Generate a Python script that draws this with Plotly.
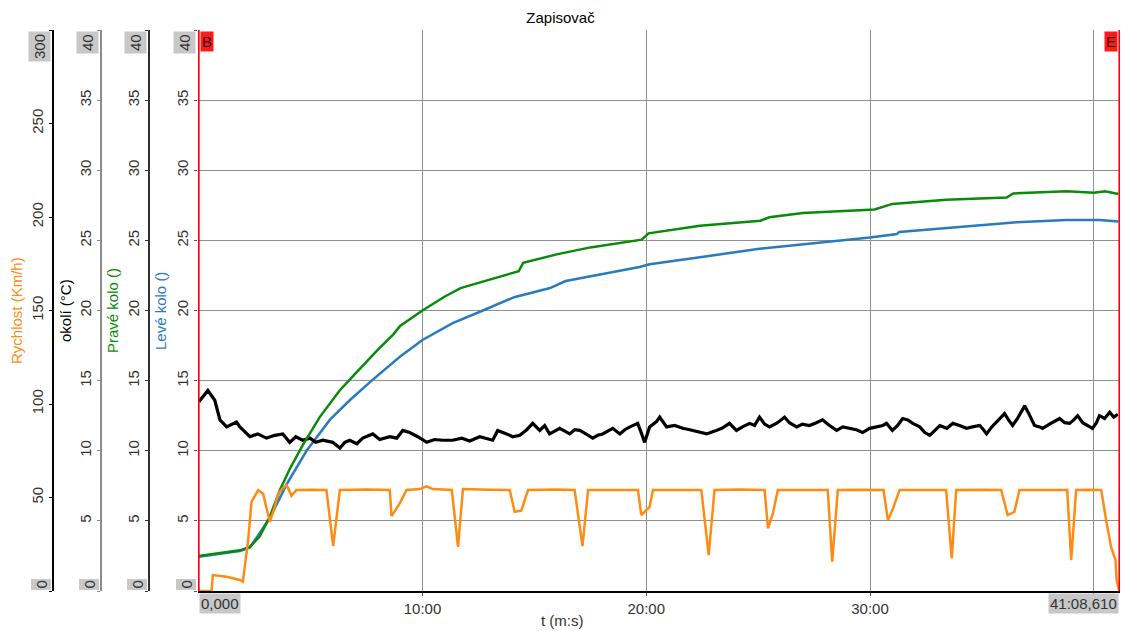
import plotly.graph_objects as go

# ---------------- data (time in minutes) ----------------
t_end = 41.1435  # 41:08,610

green_t = [0.0, 1.84, 2.29, 2.73, 3.18, 3.63, 4.07, 4.65, 5.41, 6.3, 7.0, 8.0, 8.7, 9.0, 10.0, 11.0, 11.7,
           13.0, 14.3, 14.5, 16.0, 17.5, 19.8, 20.1, 22.4, 25.1, 25.5, 27.0, 29.0, 30.2, 31.0, 33.4, 36.1,
           36.4, 38.8, 40.0, 40.5, 41.1]
green_v = [2.5, 2.9, 3.15, 3.9, 5.3, 7.2, 8.7, 10.4, 12.4, 14.3, 15.5, 17.2, 18.3, 18.9, 20.0, 21.0, 21.6,
           22.2, 22.8, 23.4, 24.0, 24.5, 25.05, 25.5, 26.05, 26.4, 26.65, 26.95, 27.1, 27.2, 27.6, 27.9, 28.05,
           28.35, 28.5, 28.4, 28.5, 28.3]

blue_t = [0.0, 1.84, 2.29, 3.18, 3.93, 4.82, 5.86, 6.75, 7.73, 8.99, 10.0, 11.35, 12.7, 14.1, 15.7, 16.4,
          19.7, 20.15, 22.4, 25.06, 30.0, 31.2, 31.3, 35.5, 36.55, 38.8, 40.25, 41.1]
blue_v = [2.45, 2.85, 3.1, 5.2, 7.6, 10.0, 12.2, 13.6, 15.0, 16.7, 17.9, 19.1, 20.0, 20.95, 21.6, 22.1,
          23.1, 23.3, 23.8, 24.4, 25.2, 25.45, 25.6, 26.2, 26.3, 26.45, 26.45, 26.35]

okoli_t = [0.01, 0.41, 0.72, 0.95, 1.25, 1.69, 1.84, 2.29, 2.64, 3.03, 3.40, 3.76, 4.07, 4.34, 4.65, 4.97,
           5.23, 5.55, 5.99, 6.31, 6.53, 6.75, 7.07, 7.33, 7.78, 8.09, 8.54, 8.85, 9.12, 9.43, 9.79, 10.19,
           10.54, 10.9, 11.35, 11.76, 12.11, 12.56, 13.14, 13.36, 13.76, 14.03, 14.35, 14.66, 14.93, 15.24,
           15.46, 15.68, 15.91, 16.13, 16.36, 16.58, 16.8, 17.03, 17.3, 17.61, 17.83, 18.05, 18.28, 18.5,
           18.82, 19.04, 19.27, 19.62, 19.75, 19.93, 20.15, 20.47, 20.6, 20.91, 21.27, 21.63, 21.94, 22.39,
           22.7, 23.06, 23.38, 23.72, 24.03, 24.3, 24.62, 24.84, 25.06, 25.29, 25.51, 25.87, 26.18, 26.4,
           26.72, 26.98, 27.29, 27.6, 27.88, 28.19, 28.51, 28.78, 29.08, 29.39, 29.67, 29.98, 30.29, 30.57,
           30.74, 31.0, 31.23, 31.46, 31.69, 31.91, 32.22, 32.45, 32.67, 32.9, 33.12, 33.43, 33.7, 34.0,
           34.31, 34.58, 34.9, 35.07, 35.21, 35.44, 35.66, 35.83, 36.01, 36.19, 36.37, 36.59, 36.77, 36.91,
           37.08, 37.22, 37.35, 37.58, 37.71, 38.02, 38.25, 38.47, 38.7, 38.92, 39.1, 39.28, 39.5, 39.72,
           39.94, 40.12, 40.25, 40.48, 40.71, 40.89, 41.07]
okoli_v = [13.5, 14.3, 13.6, 12.2, 11.7, 12.05, 11.7, 11.0, 11.2, 10.9, 11.1, 11.2, 10.6, 11.0, 10.75, 10.9,
           10.6, 10.75, 10.6, 10.2, 10.6, 10.75, 10.5, 10.9, 11.2, 10.8, 11.0, 10.9, 11.45, 11.3, 11.0, 10.6,
           10.8, 10.75, 10.75, 10.9, 10.7, 11.0, 10.75, 11.45, 11.2, 11.0, 11.1, 11.5, 11.95, 11.45,
           11.8, 11.2, 11.4, 11.6, 11.4, 11.2, 11.5, 11.45, 11.2, 10.9, 11.1, 11.2, 11.4, 11.6,
           11.2, 11.5, 11.7, 11.95, 11.4, 10.6, 11.7, 12.1, 12.4, 11.7, 11.8, 11.6, 11.5, 11.3,
           11.2, 11.4, 11.6, 11.95, 11.45, 11.7, 11.95, 11.8, 12.4, 11.9, 11.7, 12.0, 12.4, 12.0,
           11.7, 11.9, 11.8, 12.0, 12.2, 11.8, 11.45, 11.7, 11.6, 11.5, 11.3, 11.6, 11.7, 11.8,
           11.95, 11.45, 11.8, 12.3, 12.2, 11.95, 11.7, 11.3, 11.1, 11.5, 11.8, 11.6, 11.95, 11.8,
           11.6, 11.7, 11.8, 11.5, 11.2, 11.7, 12.05, 12.3, 12.65, 12.2, 11.8, 12.3, 12.8, 13.2,
           12.7, 12.2, 11.8, 11.7, 11.6, 11.9, 12.1, 12.3, 12.0, 11.95, 12.2, 12.5, 12.0, 11.8,
           11.6, 12.0, 12.5, 12.3, 12.75, 12.4, 12.6]

speed_t = [0.0, 0.576, 0.634, 1.246, 1.84, 1.974, 2.21, 2.36, 2.66, 2.88, 3.18, 3.40, 3.55, 3.76, 3.93,
           4.15, 4.37, 5.0, 5.71, 6.01, 6.31, 7.5, 8.54, 8.62, 8.99, 9.29, 9.88, 10.18, 10.46, 11.31, 11.59,
           11.81, 13.0, 13.9, 14.12, 14.42, 14.72, 16.0, 16.8, 17.15, 17.4, 18.5, 19.63, 19.78, 20.15,
           20.3, 21.5, 22.46, 22.79, 23.05, 24.2, 25.29, 25.44, 25.66, 25.88, 27.0, 28.11, 28.31, 28.56,
           29.6, 30.6, 30.8, 31.02, 31.32, 32.4, 33.4, 33.65, 33.85, 35.0, 35.86, 36.15, 36.45, 36.68,
           37.8, 38.81, 38.99, 39.21, 39.8, 40.33, 40.55, 40.77, 40.97, 41.02, 41.14]
speed_v = [0, 0, 8.5, 7.6, 5.9, 5.0, 27, 47.6, 54, 52, 37, 45, 52, 55, 56.6,
           51, 54, 54.2, 54, 24, 54, 54.3, 54, 40, 47, 54, 54.5, 56, 54.5, 54, 23.6,
           54.5, 54.2, 54, 42.3, 43, 54, 54.3, 54, 24, 54, 54.2, 54, 40.6, 45,
           54, 54.2, 54, 19.2, 54, 54.3, 54, 33.5, 41.5, 54, 54.2, 54, 15.7, 54,
           54.2, 54, 37.9, 44, 54, 54.2, 54, 17.4, 54, 54.2, 54, 40.6, 42.3, 54,
           54.2, 54, 16.5, 54, 54.2, 54, 37.9, 23.6, 16.5, 5.9, 0]

x_ticks = [10, 20, 30, 40]
x_ticktext = ["10:00", "20:00", "30:00", ""]
y40_ticks = [0, 5, 10, 15, 20, 25, 30, 35, 40]
y40_text = ["", "5", "10", "15", "20", "25", "30", "35", ""]
y300_ticks = [0, 50, 100, 150, 200, 250, 300]
y300_text = ["", "50", "100", "150", "200", "250", ""]

# ---------------- style ----------------
FONT = "Liberation Sans, Arial, sans-serif"
W, H = 1121, 631
ORANGE = "#ff8c12"
GREEN = "#0a8a0a"
BLUE = "#2a7bbd"
GRID = "#8f8f8f"
TICKC = "#333333"

fig = go.Figure()
fig.add_trace(go.Scatter(x=speed_t, y=speed_v, yaxis="y4", mode="lines",
                         line=dict(color=ORANGE, width=2.5), name="Rychlost"))
fig.add_trace(go.Scatter(x=blue_t, y=blue_v, yaxis="y", mode="lines",
                         line=dict(color=BLUE, width=2.5), name="Levé kolo"))
fig.add_trace(go.Scatter(x=green_t, y=green_v, yaxis="y3", mode="lines",
                         line=dict(color=GREEN, width=2.5), name="Pravé kolo"))
fig.add_trace(go.Scatter(x=okoli_t, y=okoli_v, yaxis="y2", mode="lines",
                         line=dict(color="black", width=3.2), name="okolí"))

x0p, x1p = 198 / W, 1120 / W
tickfont = dict(family=FONT, size=15, color=TICKC)

common_y = dict(range=[0, 40], tickvals=y40_ticks, ticktext=y40_text, tickangle=-90,
                ticks="outside", ticklen=3, tickfont=tickfont, zeroline=False,
                linewidth=1.5, fixedrange=True)

fig.update_layout(
    width=W, height=H,
    margin=dict(l=0, r=0, t=30, b=40),
    plot_bgcolor="white", paper_bgcolor="white",
    showlegend=False,
    title=dict(text="Zapisovač", x=0.5, xref="container", xanchor="center",
               y=1 - 18 / H, yref="container", yanchor="middle",
               font=dict(family=FONT, size=15, color="black")),
    xaxis=dict(domain=[x0p, x1p], range=[-0.03, 41.17], tickvals=x_ticks, ticktext=x_ticktext,
               showgrid=True, gridcolor=GRID, gridwidth=1.2, zeroline=False,
               showline=True, linecolor="black", linewidth=1.5, fixedrange=True,
               ticks="outside", ticklen=3, tickcolor="#555", tickfont=tickfont),
    yaxis=dict(**common_y, showline=False, showgrid=True, gridcolor=GRID, gridwidth=1.2, tickcolor="#555"),
    yaxis2=dict(**common_y, showline=True, overlaying="y", anchor="free", position=101 / W, side="left",
                showgrid=False, linecolor="#8a8a8a", tickcolor="#8a8a8a"),
    yaxis3=dict(**common_y, showline=True, overlaying="y", anchor="free", position=149 / W, side="left",
                showgrid=False, linecolor="#303030", tickcolor="#303030"),
    yaxis4=dict(range=[0, 300], tickvals=y300_ticks, ticktext=y300_text, tickangle=-90,
                ticks="outside", ticklen=3, tickfont=tickfont, zeroline=False,
                showline=True, linewidth=1.5, linecolor="black", tickcolor="black",
                overlaying="y", anchor="free", position=53 / W, side="left",
                showgrid=False, fixedrange=True),
)

# cursors B / E
for xv in [0, t_end]:
    fig.add_shape(type="line", xref="x", yref="paper", x0=xv, x1=xv, y0=0, y1=1,
                  line=dict(color="red", width=2), layer="above")

ann = []
ann.append(dict(x=0, y=40, xref="x", yref="y", text="B", showarrow=False, xanchor="left",
                yanchor="top", bgcolor="#ff1a1a", borderpad=1, xshift=1, yshift=-1,
                font=dict(family=FONT, size=15, color="#3a0000")))
ann.append(dict(x=t_end, y=40, xref="x", yref="y", text="E", showarrow=False, xanchor="right",
                yanchor="top", bgcolor="#ff1a1a", borderpad=1, xshift=-1, yshift=-1,
                font=dict(family=FONT, size=15, color="#3a0000")))

# boxed min/max tick labels on each y axis
box_axes = [(198, "40", "0"), (149, "40", "0"), (101, "40", "0"), (53, "300", "0")]
for px, top, bot in box_axes:
    ann.append(dict(x=px / W, y=1, xref="paper", yref="paper", text=top, textangle=-90,
                    showarrow=False, xanchor="right", yanchor="top", xshift=-2, yshift=-1,
                    bgcolor="#c8c8c8", borderpad=2, font=tickfont))
    ann.append(dict(x=px / W, y=0, xref="paper", yref="paper", text=bot, textangle=-90,
                    showarrow=False, xanchor="right", yanchor="bottom", xshift=-2, yshift=0,
                    bgcolor="#c8c8c8", borderpad=1, font=tickfont))

# boxed start/end time labels
ann.append(dict(x=0, y=0, xref="x", yref="paper", text="0,000", showarrow=False,
                xanchor="left", yanchor="top", yshift=-2, bgcolor="#c8c8c8", borderpad=1, font=tickfont))
ann.append(dict(x=t_end, y=0, xref="x", yref="paper", text="41:08,610", showarrow=False,
                xanchor="right", yanchor="top", yshift=-2, bgcolor="#c8c8c8", borderpad=1, font=tickfont))

# axis titles
plot_h = H - 70
def py(pix):
    return (591 - pix) / plot_h

titles = [(16, "Rychlost (Km/h)", ORANGE), (65, "okolí (°C)", "black"),
          (112, "Pravé kolo ()", GREEN), (160, "Levé kolo ()", BLUE)]
for px, txt, col in titles:
    ann.append(dict(x=px / W, y=py(311), xref="paper", yref="paper", text=txt, textangle=-90,
                    showarrow=False, xanchor="center", yanchor="middle",
                    font=dict(family=FONT, size=15, color=col)))

ann.append(dict(x=562 / W, y=py(620), xref="paper", yref="paper", text="t (m:s)", showarrow=False,
                xanchor="center", yanchor="middle", font=dict(family=FONT, size=15, color=TICKC)))

fig.update_layout(annotations=ann)
fig.write_html("out.html", config={"displayModeBar": False},
               post_script="document.body.style.margin='0';document.body.style.overflow='hidden';")
